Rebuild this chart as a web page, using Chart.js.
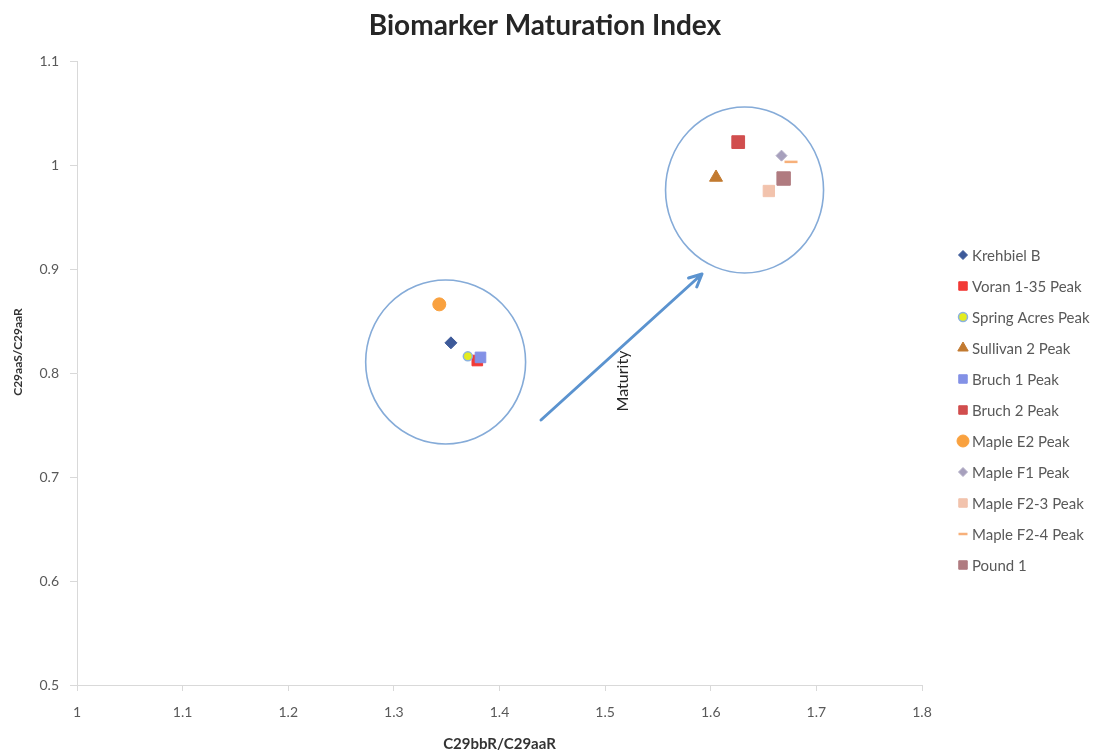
<!DOCTYPE html>
<html>
<head>
<meta charset="utf-8">
<title>Biomarker Maturation Index</title>
<script src="https://cdn.jsdelivr.net/npm/chart.js@4/dist/chart.umd.min.js"></script>
<style>
  html, body { margin: 0; padding: 0; background: #ffffff; }
  canvas { display: block; }
</style>
</head>
<body>
<canvas id="chart" width="1096" height="755"></canvas>
<script>
// Sample names and their sterane ratios
const seriesNames = [
  'Krehbiel B', 'Voran 1-35 Peak', 'Spring Acres Peak', 'Sullivan 2 Peak',
  'Bruch 1 Peak', 'Bruch 2 Peak', 'Maple E2 Peak', 'Maple F1 Peak',
  'Maple F2-3 Peak', 'Maple F2-4 Peak', 'Pound 1'
];
const bbRatio = [1.354, 1.379, 1.370, 1.605, 1.382, 1.626, 1.343, 1.667, 1.655, 1.676, 1.669]; // C29bbR/C29aaR
const sRatio  = [0.829, 0.812, 0.816, 0.988, 0.815, 1.022, 0.866, 1.009, 0.975, 1.003, 0.987]; // C29aaS/C29aaR

const xTickValues = [1, 1.1, 1.2, 1.3, 1.4, 1.5, 1.6, 1.7, 1.8];
const yTickValues = [0.5, 0.6, 0.7, 0.8, 0.9, 1, 1.1];

// Group outlines (centre and radii in axis units) and the maturity trend arrow
const groupCentersX = [1.349, 1.632];
const groupCentersY = [0.8106, 0.976];
const groupRadiiX = [0.0757, 0.0748];
const groupRadiiY = [0.0788, 0.0798];
const trendFrom = [1.4393, 0.7548];
const trendTo = [1.5917, 0.8952];
const trendLabel = 'Maturity';
const trendLabelAt = [1.5169, 0.7923];

// Marker look per sample
const markerStyles = [
  { shape: 'rectRot',  r: 6,   fill: '#3d5a99', line: '#3d5a99', w: 1 },
  { shape: 'rect',     r: 7.5, fill: '#f23a36', line: '#f23a36', w: 1 },
  { shape: 'circle',   r: 4.5, fill: '#e4ec1f', line: '#8cb3df', w: 1.5 },
  { shape: 'triangle', r: 7.5, fill: '#c27a30', line: '#c27a30', w: 1 },
  { shape: 'rect',     r: 7.5, fill: '#8391e6', line: '#8391e6', w: 1 },
  { shape: 'rect',     r: 9,   fill: '#d14e4e', line: '#d14e4e', w: 1 },
  { shape: 'circle',   r: 6.5, fill: '#f9a13f', line: '#f9a13f', w: 1 },
  { shape: 'rectRot',  r: 5.5, fill: '#a7a0bd', line: '#b3aec6', w: 1 },
  { shape: 'rect',     r: 8,   fill: '#f2c3ad', line: '#f2c3ad', w: 1 },
  { shape: 'line',     r: 6.5, fill: '#f7b07a', line: '#f7b07a', w: 2.5 },
  { shape: 'rect',     r: 9.5, fill: '#b07b80', line: '#b07b80', w: 1 }
];

const FONT = 'Lato, "Open Sans", "DejaVu Sans", sans-serif';
const TEXT = '#595959';

// later samples are painted over earlier ones
const datasets = seriesNames.map((name, i) => ({
  label: name,
  order: seriesNames.length - i,
  data: [{ x: bbRatio[i], y: sRatio[i] }],
  pointStyle: markerStyles[i].shape,
  pointRadius: markerStyles[i].r,
  pointHoverRadius: markerStyles[i].r,
  backgroundColor: markerStyles[i].fill,
  borderColor: markerStyles[i].line,
  pointBorderWidth: markerStyles[i].w,
  borderWidth: markerStyles[i].w
}));

// Draws the title, the rotated y-axis title, the group circles, the arrow and the legend
const decorations = {
  id: 'decorations',
  afterDatasetsDraw(chart) {
    const ctx = chart.ctx;
    const xs = chart.scales.x, ys = chart.scales.y;

    // group circles
    ctx.save();
    ctx.strokeStyle = '#85abd8';
    ctx.lineWidth = 1.6;
    for (let i = 0; i < groupCentersX.length; i++) {
      const cx = xs.getPixelForValue(groupCentersX[i]);
      const cy = ys.getPixelForValue(groupCentersY[i]);
      const rx = xs.getPixelForValue(groupCentersX[i] + groupRadiiX[i]) - cx;
      const ry = cy - ys.getPixelForValue(groupCentersY[i] + groupRadiiY[i]);
      ctx.beginPath();
      ctx.ellipse(cx, cy, rx, ry, 0, 0, Math.PI * 2);
      ctx.stroke();
    }
    ctx.restore();

    // maturity arrow
    const x0 = xs.getPixelForValue(trendFrom[0]), y0 = ys.getPixelForValue(trendFrom[1]);
    const x1 = xs.getPixelForValue(trendTo[0]),   y1 = ys.getPixelForValue(trendTo[1]);
    const ang = Math.atan2(y1 - y0, x1 - x0);
    ctx.save();
    ctx.strokeStyle = '#5b93cf';
    ctx.lineWidth = 3;
    ctx.lineCap = 'round';
    ctx.lineJoin = 'round';
    ctx.beginPath();
    ctx.moveTo(x0, y0);
    ctx.lineTo(x1, y1);
    const head = 14, spread = 0.45;
    ctx.moveTo(x1 - head * Math.cos(ang - spread), y1 - head * Math.sin(ang - spread));
    ctx.lineTo(x1, y1);
    ctx.lineTo(x1 - head * Math.cos(ang + spread), y1 - head * Math.sin(ang + spread));
    ctx.stroke();
    ctx.restore();

    // arrow label
    ctx.save();
    ctx.translate(xs.getPixelForValue(trendLabelAt[0]), ys.getPixelForValue(trendLabelAt[1]));
    ctx.rotate(-Math.PI / 2);
    ctx.fillStyle = '#262626';
    ctx.font = '16px ' + FONT;
    ctx.textAlign = 'center';
    ctx.textBaseline = 'middle';
    ctx.fillText(trendLabel, 0, 0);
    ctx.restore();
  },
  afterDraw(chart) {
    const ctx = chart.ctx;
    // chart title
    ctx.save();
    ctx.fillStyle = '#262626';
    ctx.font = 'bold 28px ' + FONT;
    ctx.textAlign = 'center';
    ctx.textBaseline = 'middle';
    ctx.fillText('Biomarker Maturation Index', 545, 26);
    ctx.restore();

    // y-axis title
    ctx.save();
    ctx.translate(18, 352);
    ctx.rotate(-Math.PI / 2);
    ctx.fillStyle = '#333333';
    ctx.font = 'bold 12px ' + FONT;
    ctx.textAlign = 'center';
    ctx.textBaseline = 'middle';
    ctx.fillText('C29aaS/C29aaR', 0, 0);
    ctx.restore();

    // legend
    const lx = 963, ly = 255, step = 31;
    chart.data.datasets.forEach((ds, i) => {
      const y = ly + i * step;
      const ms = markerStyles[i];
      ctx.save();
      ctx.fillStyle = ms.fill;
      ctx.strokeStyle = ms.line;
      ctx.lineWidth = ms.w;
      Chart.helpers.drawPoint(ctx, {
        pointStyle: ms.shape,
        radius: Math.min(ms.r, ms.shape === 'line' ? 4.5 : (ms.shape === 'rectRot' ? 4.5 : 6)),
        borderWidth: ms.w,
        rotation: 0
      }, lx, y);
      ctx.restore();
      ctx.save();
      ctx.fillStyle = TEXT;
      ctx.font = '15px ' + FONT;
      ctx.textAlign = 'left';
      ctx.textBaseline = 'middle';
      ctx.fillText(ds.label, lx + 9, y + 1);
      ctx.restore();
    });
  }
};

new Chart(document.getElementById('chart'), {
  type: 'scatter',
  data: { datasets },
  options: {
    responsive: false,
    animation: false,
    layout: { padding: { top: 61, right: 174, left: 0, bottom: 0 } },
    plugins: {
      legend: { display: false },
      title: { display: false },
      tooltip: { enabled: false }
    },
    scales: {
      x: {
        type: 'linear',
        min: 1, max: 1.8,
        afterBuildTicks: s => { s.ticks = xTickValues.map(v => ({ value: v })); },
        afterFit: s => { s.height = 70; },
        border: { color: '#d9d9d9', width: 1 },
        grid: { drawOnChartArea: false, drawTicks: true, tickLength: 6, color: '#d9d9d9' },
        ticks: {
          padding: 13,
          color: TEXT,
          font: { family: FONT, size: 14 },
          callback: v => String(Math.round(v * 10) / 10)
        },
        title: {
          display: true,
          text: 'C29bbR/C29aaR',
          color: '#333333',
          font: { family: FONT, size: 15, weight: 'bold' },
          padding: { top: 0, bottom: 2 }
        }
      },
      y: {
        type: 'linear',
        min: 0.5, max: 1.1,
        afterBuildTicks: s => { s.ticks = yTickValues.map(v => ({ value: v })); },
        afterFit: s => { s.width = 77; },
        border: { color: '#d9d9d9', width: 1 },
        grid: { drawOnChartArea: false, drawTicks: true, tickLength: 7, color: '#d9d9d9' },
        ticks: {
          padding: 11,
          color: TEXT,
          font: { family: FONT, size: 14 },
          callback: v => String(Math.round(v * 10) / 10)
        }
      }
    }
  },
  plugins: [decorations]
});
</script>
</body>
</html>
